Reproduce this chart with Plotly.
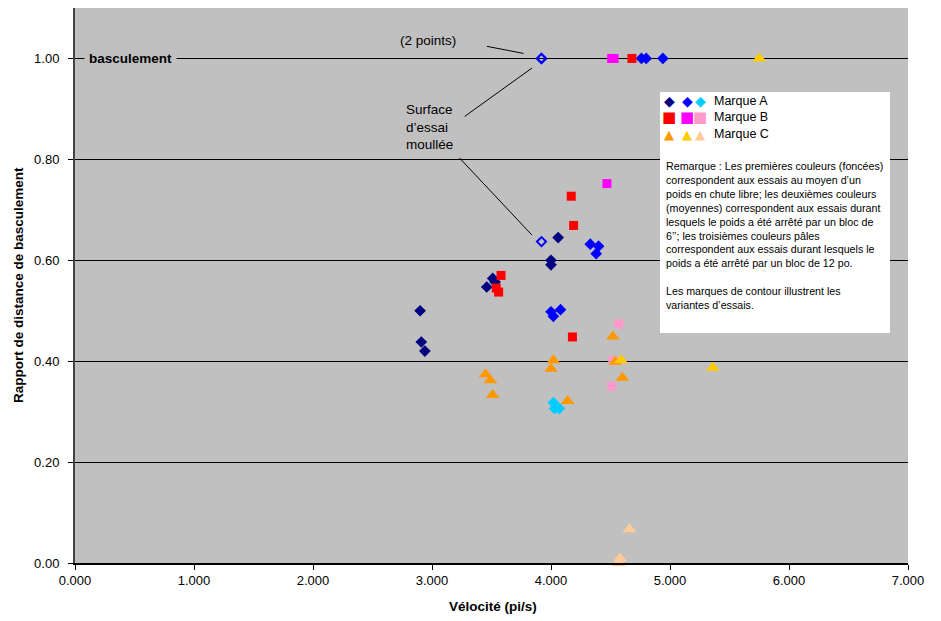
import plotly.graph_objects as go

# ---------------- data ----------------
a_dark_x = [2.90, 2.91, 2.94, 3.46, 3.51, 3.53, 4.00, 4.00, 4.06]
a_dark_y = [0.500, 0.438, 0.420, 0.547, 0.564, 0.557, 0.600, 0.591, 0.645]
a_med_x = [4.33, 4.40, 4.38, 4.00, 4.02, 4.08, 4.76, 4.80, 4.94]
a_med_y = [0.632, 0.628, 0.613, 0.498, 0.489, 0.502, 1.0, 1.0, 1.0]
a_open_x = [3.92, 3.92, 3.92]
a_open_y = [1.0, 1.0, 0.637]
a_light_x = [4.02, 4.03, 4.07]
a_light_y = [0.318, 0.306, 0.306]

b_dark_x = [4.17, 4.19, 3.58, 3.54, 3.56, 4.18, 4.68]
b_dark_y = [0.727, 0.669, 0.570, 0.545, 0.537, 0.448, 1.0]
b_med_x = [4.47, 4.51, 4.53]
b_med_y = [0.752, 1.0, 1.0]
b_light_x = [4.57, 4.52, 4.51]
b_light_y = [0.474, 0.401, 0.350]

c_dark_x = [4.52, 4.02, 4.00, 3.45, 3.49, 3.51, 4.14, 4.54, 4.60]
c_dark_y = [0.449, 0.402, 0.385, 0.374, 0.362, 0.333, 0.321, 0.399, 0.367]
c_med_x = [4.59, 5.36, 5.75]
c_med_y = [0.402, 0.387, 1.0]
c_light_x = [4.66, 4.58, 4.57]
c_light_y = [0.067, 0.009, 0.0]

x_ticks = [0, 1, 2, 3, 4, 5, 6, 7]
y_ticks = [0.0, 0.2, 0.4, 0.6, 0.8, 1.0]

legend_labels = ["Marque A", "Marque B", "Marque C"]
remark_lines = [
    "Remarque : Les premières couleurs (foncées)",
    "correspondent aux essais au moyen d’un",
    "poids en chute libre; les deuxièmes couleurs",
    "(moyennes) correspondent aux essais durant",
    "lesquels le poids a été arrêté par un bloc de",
    "6’’; les troisièmes couleurs pâles",
    "correspondent aux essais durant lesquels le",
    "poids a été arrêté par un bloc de 12 po.",
    "",
    "Les marques de contour illustrent les",
    "variantes d’essais.",
]

# ---------------- styles ----------------
NAVY, BLUE, CYAN = "#000080", "#0000FF", "#00CCFF"
RED, MAGENTA, PINK = "#FF0000", "#FF00FF", "#FF99CC"
ORANGE, GOLD, PEACH = "#FF9900", "#FFCC00", "#FFCC99"
FONT = "Arial, Liberation Sans, sans-serif"

W, H = 941, 621
L, R, T, B = 75, 33, 8, 58
PW, PH = W - L - R, H - T - B


def px(x):
    return (x - L) / PW


def py(y):
    return (H - B - y) / PH


fig = go.Figure()


def add(xs, ys, color, symbol, size, line=None):
    mk = dict(color=color, symbol=symbol, size=size)
    if line:
        mk["line"] = line
    fig.add_trace(go.Scatter(x=xs, y=ys, mode="markers", marker=mk,
                             cliponaxis=False, showlegend=False,
                             hoverinfo="x+y"))


add(a_dark_x, a_dark_y, NAVY, "diamond", 9)
add(a_med_x, a_med_y, BLUE, "diamond", 9)
add(a_open_x, a_open_y, BLUE, "diamond-open", 7, dict(width=2, color=BLUE))
add(a_light_x, a_light_y, CYAN, "diamond", 9)
add(b_dark_x, b_dark_y, RED, "square", 9)
add(b_med_x, b_med_y, MAGENTA, "square", 9)
add(b_light_x, b_light_y, PINK, "square", 9)
add(c_dark_x, c_dark_y, ORANGE, "triangle-up", 12)
add(c_med_x, c_med_y, GOLD, "triangle-up", 12)
add(c_light_x, c_light_y, PEACH, "triangle-up", 12)

shapes = []
# legend box
shapes.append(dict(type="rect", xref="paper", yref="paper",
                   x0=px(660), x1=px(890), y0=py(333), y1=py(92),
                   fillcolor="white", line=dict(width=0), layer="above"))
# leader lines (data coords)
for (x0, y0, x1, y1) in [(3.462, 1.024, 3.769, 1.010),
                         (3.274, 0.885, 3.840, 0.981),
                         (3.230, 0.803, 3.840, 0.650)]:
    shapes.append(dict(type="line", xref="x", yref="y", x0=x0, y0=y0,
                       x1=x1, y1=y1, line=dict(color="black", width=1)))

ann = []
# legend glyph rows
glyph_sets = [("◆", [NAVY, BLUE, CYAN], 14),
              ("■", [RED, MAGENTA, PINK], 15),
              ("▲", [ORANGE, GOLD, PEACH], 13)]
row_y = [101, 117, 134]
glyph_x = [669, 687, 700]
for (g, cols, fs), ry, lab in zip(glyph_sets, row_y, legend_labels):
    for gx, c in zip(glyph_x, cols):
        ann.append(dict(xref="paper", yref="paper", x=px(gx), y=py(ry),
                        text=g, showarrow=False, xanchor="center",
                        yanchor="middle",
                        font=dict(family="DejaVu Sans", size=fs, color=c)))
    ann.append(dict(xref="paper", yref="paper", x=px(712), y=py(ry),
                    text=lab, showarrow=False, xanchor="left",
                    yanchor="middle",
                    font=dict(family=FONT, size=12.5, color="black")))

ann.append(dict(xref="paper", yref="paper", x=px(664), y=py(158),
                text="<br>".join(remark_lines), showarrow=False,
                xanchor="left", yanchor="top", align="left",
                font=dict(family=FONT, size=10.7, color="black")))

ann.append(dict(xref="x", yref="y", x=0.47, y=1.0, text="<b>basculement</b>",
                showarrow=False, xanchor="center", yanchor="middle",
                bgcolor="#C0C0C0", borderpad=4,
                font=dict(family=FONT, size=13.5, color="black")))
ann.append(dict(xref="x", yref="y", x=2.966, y=1.036, text="(2 points)",
                showarrow=False, xanchor="center", yanchor="middle",
                font=dict(family=FONT, size=13.5, color="black")))
ann.append(dict(xref="x", yref="y", x=2.768, y=0.865,
                text="Surface<br>d’essai<br>moullée",
                showarrow=False, xanchor="left", yanchor="middle",
                align="left",
                font=dict(family=FONT, size=13.5, color="black")))

# axis titles
ann.append(dict(xref="paper", yref="paper", x=px(493), y=py(606),
                text="<b>Vélocité (pi/s)</b>", showarrow=False,
                xanchor="center", yanchor="middle",
                font=dict(family=FONT, size=13.5, color="black")))
ann.append(dict(xref="paper", yref="paper", x=px(18), y=py(285),
                text="<b>Rapport de distance de basculement</b>",
                showarrow=False, textangle=-90,
                xanchor="center", yanchor="middle",
                font=dict(family=FONT, size=13.5, color="black")))

fig.update_layout(
    width=W, height=H,
    margin=dict(l=L, r=R, t=T, b=B, pad=0),
    paper_bgcolor="white", plot_bgcolor="#C0C0C0",
    font=dict(family=FONT, size=13, color="black"),
    shapes=shapes, annotations=ann, showlegend=False,
    xaxis=dict(range=[0, 7], tickvals=x_ticks, tickformat=".3f",
               ticks="outside", ticklen=5, tickcolor="black",
               showline=True, linecolor="black", linewidth=1.5,
               showgrid=False, zeroline=False, fixedrange=True),
    yaxis=dict(range=[0, 1.1], tickvals=y_ticks, tickformat=".2f",
               ticks="outside", ticklen=5, tickcolor="black",
               showline=True, linecolor="#444444", linewidth=2,
               showgrid=True, gridcolor="black", gridwidth=1,
               zeroline=False, fixedrange=True, ticklabelstandoff=6),
)

fig.write_html("out.html", config={"displayModeBar": False},
               post_script="document.body.style.margin='0';"
                           "document.body.style.overflow='hidden';")
